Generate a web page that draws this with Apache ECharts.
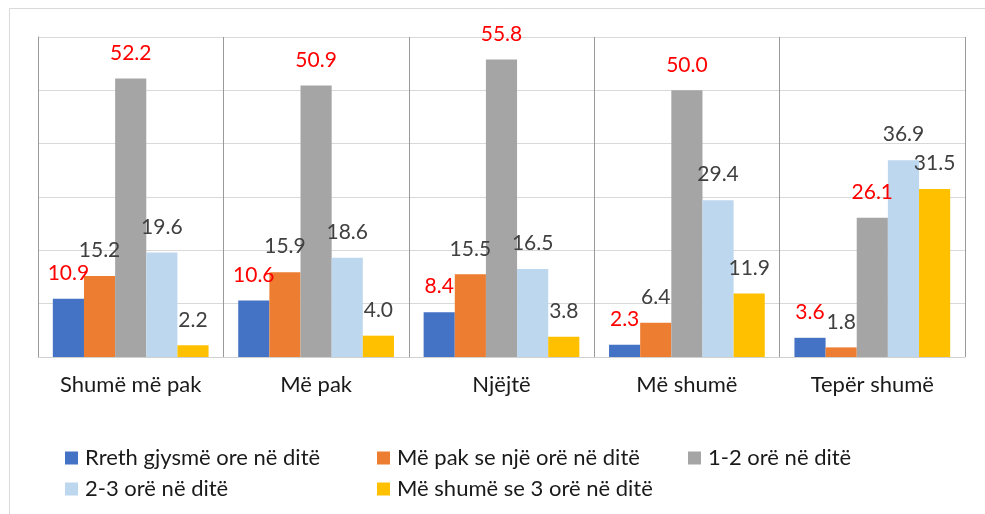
<!DOCTYPE html>
<html>
<head>
<meta charset="utf-8">
<script src="https://cdn.jsdelivr.net/npm/echarts@6/dist/echarts.min.js"></script>
<style>
  html, body { margin: 0; padding: 0; background: #fff; }
  #chartCont { width: 985px; height: 514px; }
</style>
</head>
<body>
<div id="chartCont"></div>
<script>
var categories = ['Shumë më pak', 'Më pak', 'Njëjtë', 'Më shumë', 'Tepër shumë'];
var seriesNames = ['Rreth gjysmë ore në ditë', 'Më pak se një orë në ditë', '1-2 orë në ditë', '2-3 orë në ditë', 'Më shumë se 3 orë në ditë'];
var halfHour = [10.9, 10.6, 8.4, 2.3, 3.6];
var lessOneHour = [15.2, 15.9, 15.5, 6.4, 1.8];
var oneTwoHours = [52.2, 50.9, 55.8, 50.0, 26.1];
var twoThreeHours = [19.6, 18.6, 16.5, 29.4, 36.9];
var moreThreeHours = [2.2, 4.0, 3.8, 11.9, 31.5];

var colors = ['#4472C4', '#ED7D31', '#A5A5A5', '#BDD7EE', '#FFC000'];
var labelColors = ['#FF0000', '#404040', '#FF0000', '#404040', '#404040'];
var fontName = 'Lato';

window.onload = function() {
    setBars();
};

function makeSeries(i, data) {
    return {
        name: seriesNames[i],
        type: 'bar',
        barGap: '0%',
        barCategoryGap: '16%',
        itemStyle: { color: colors[i] },
        label: {
            show: true,
            position: 'top',
            distance: 15,
            color: labelColors[i],
            fontSize: 21,
            fontFamily: fontName,
            formatter: function(p) { return p.value.toFixed(1); }
        },
        data: data
    };
}

function makeLegend(names, left) {
    return {
        orient: 'vertical',
        left: left,
        top: 441,
        itemGap: 7,
        itemWidth: 13,
        itemHeight: 13,
        icon: 'rect',
        selectedMode: false,
        textStyle: { color: '#1a1a1a', fontSize: 22, lineHeight: 24, fontFamily: fontName, padding: [0, 0, 0, 2] },
        data: names
    };
}

function setBars() {
    var ec = echarts.init(document.getElementById('chartCont'));
    ec.setOption({
        animation: false,
        grid: { left: 38, right: 20, top: 37, bottom: 157 },
        graphic: [{
            type: 'rect',
            shape: { x: 9.5, y: 8.5, width: 1000, height: 600 },
            style: { fill: 'none', stroke: '#d9d9d9', lineWidth: 1 },
            silent: true
        }],
        legend: [
            makeLegend([seriesNames[0], seriesNames[3]], 60),
            makeLegend([seriesNames[1], seriesNames[4]], 372),
            makeLegend([seriesNames[2]], 683)
        ],
        xAxis: {
            type: 'category',
            data: categories,
            axisLine: { lineStyle: { color: '#d0d0d0' } },
            axisTick: { show: false },
            splitLine: { show: true, lineStyle: { color: '#9a9a9a' } },
            axisLabel: { color: '#1a1a1a', fontSize: 22, fontFamily: fontName, margin: 17 }
        },
        yAxis: {
            type: 'value',
            min: 0,
            max: 60,
            interval: 10,
            axisLabel: { show: false },
            axisLine: { show: true, lineStyle: { color: '#9a9a9a' } },
            axisTick: { show: false },
            splitLine: { lineStyle: { color: '#d9d9d9' } }
        },
        series: [
            makeSeries(0, halfHour),
            makeSeries(1, lessOneHour),
            makeSeries(2, oneTwoHours),
            makeSeries(3, twoThreeHours),
            makeSeries(4, moreThreeHours)
        ]
    });
}
</script>
</body>
</html>
